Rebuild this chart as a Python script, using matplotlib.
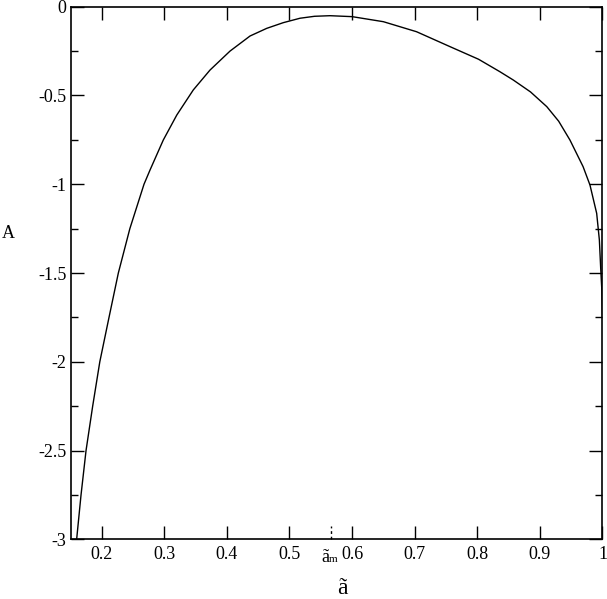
import matplotlib
matplotlib.use("Agg")
import matplotlib.pyplot as plt
import numpy as np
from matplotlib.transforms import blended_transform_factory, offset_copy

plt.rcParams['font.family'] = ['Liberation Serif', 'DejaVu Serif']

# Curve A(ã)
a_vals = [0.160, 0.167, 0.175, 0.1856, 0.197, 0.2117, 0.2266, 0.245, 0.2676,
          0.2772, 0.2984, 0.320, 0.3463, 0.373, 0.405, 0.437, 0.4636, 0.490,
          0.5168, 0.540, 0.5647, 0.600, 0.650, 0.703, 0.7564, 0.802, 0.836,
          0.8575, 0.885, 0.911, 0.930, 0.948, 0.969, 0.980, 0.9907, 0.995,
          0.997, 0.999, 1.000]
A_vals = [-3.0, -2.75, -2.5, -2.25, -2.0, -1.75, -1.5, -1.25, -1.0,
          -0.920, -0.751, -0.610, -0.469, -0.357, -0.250, -0.165, -0.122, -0.090,
          -0.065, -0.054, -0.0507, -0.056, -0.0845, -0.141, -0.225, -0.296, -0.366,
          -0.413, -0.480, -0.563, -0.645, -0.751, -0.901, -1.0045, -1.164, -1.314,
          -1.465, -1.600, -1.750]

x_ticks = [0.2, 0.3, 0.4, 0.5, 0.6, 0.7, 0.8, 0.9, 1.0]
x_ticklabels = ['0.2', '0.3', '0.4', '0.5', '0.6', '0.7', '0.8', '0.9', '1']
y_ticks = [0, -0.5, -1, -1.5, -2, -2.5, -3]
y_ticklabels = ['0', '-0.5', '-1', '-1.5', '-2', '-2.5', '-3']
a_m = 0.566

fig = plt.figure(figsize=(6.07, 5.99), dpi=100)
ax = fig.add_axes([70.7/607, 1-539.3/599, (602.5-70.7)/607, (539.3-6.7)/599])

ax.plot(a_vals, A_vals, color='black', lw=1.0, solid_joinstyle='round')

ax.set_xlim(0.1505, 1.0)
ax.set_ylim(-3, 0)
ax.set_xticks(x_ticks)
ax.set_xticklabels(x_ticklabels)
ax.set_yticks(y_ticks)
ax.set_yticklabels(y_ticklabels)
ax.set_yticks(np.arange(-3, 0.01, 0.25), minor=True)

ax.tick_params(which='both', direction='in', top=True, right=True,
               labelsize=13, width=1.0, color='black')
ax.tick_params(which='major', length=9.4)
ax.tick_params(which='minor', length=5)
ax.tick_params(axis='x', pad=5)
ax.tick_params(axis='y', pad=3)
for s in ax.spines.values():
    s.set_linewidth(1.2)

# dashed tick at ã_m
trans = blended_transform_factory(ax.transData, ax.transAxes)
ax.plot([a_m, a_m], [0, 13/532.6], transform=trans, color='black', lw=1.0,
        ls=(0, (2, 2)), clip_on=False)
t1 = offset_copy(trans, fig=fig, x=-1.2, y=-16.1, units='points')
ax.text(a_m, 0, 'ã', transform=t1, ha='right', va='baseline', fontsize=13)
t2 = offset_copy(trans, fig=fig, x=-1.2, y=-16.6, units='points')
ax.text(a_m, 0, 'm', transform=t2, ha='left', va='baseline', fontsize=8)

fig.text(342/607, 1-594/599, 'ã', ha='center', va='baseline', fontsize=17)
fig.text(8.5/607, 1-234/599, 'A', ha='center', va='center', fontsize=13)

fig.savefig('out.png', dpi=100)
